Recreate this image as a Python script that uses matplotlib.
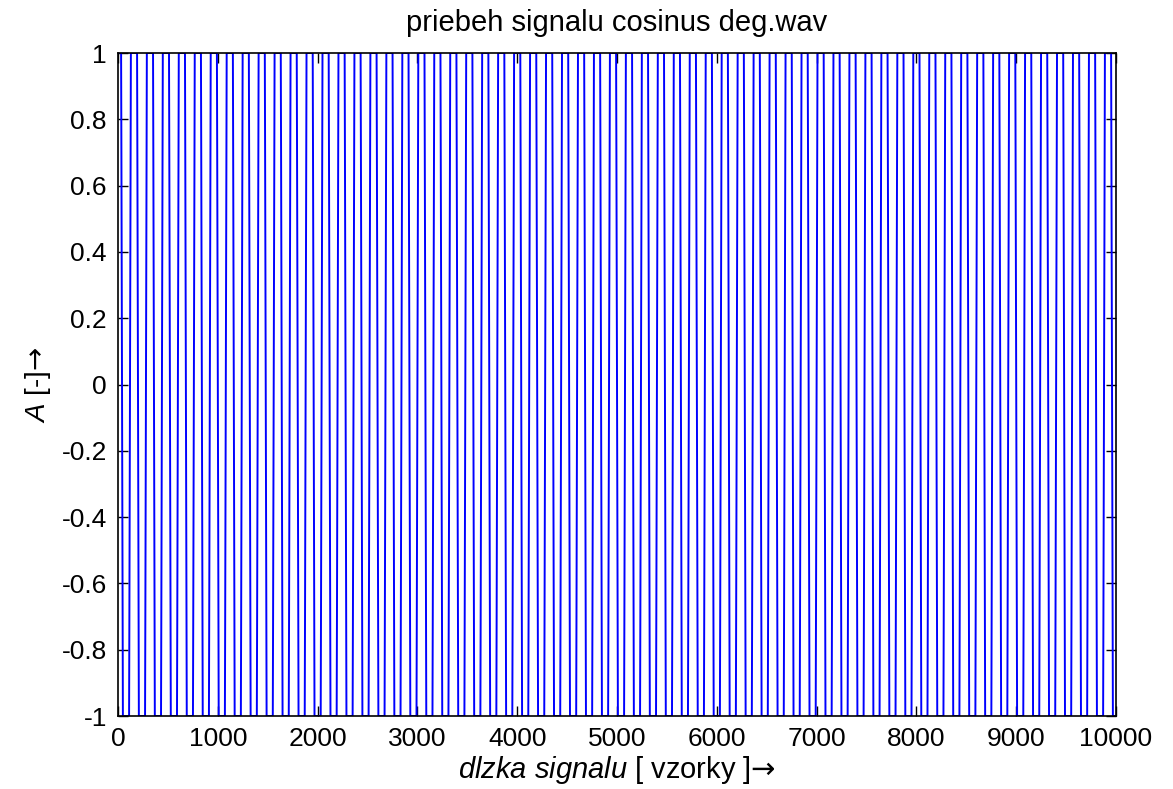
import numpy as np
import matplotlib
matplotlib.use("Agg")
import matplotlib.pyplot as plt
from matplotlib.ticker import FuncFormatter

# signal: a 50 Hz cosine at 8 kHz, 10000 samples,
# degraded by overdrive so it clips at +-1 (almost square)
sample_rate = 8000
tone_freq = 50
n_samples = 10000
overdrive = 3.0
samples = np.arange(n_samples)
signal = np.clip(overdrive * np.cos(2 * np.pi * tone_freq * samples / sample_rate), -1, 1)

x_ticks = list(range(0, 10001, 1000))
y_ticks = [-1, -0.8, -0.6, -0.4, -0.2, 0, 0.2, 0.4, 0.6, 0.8, 1]

plt.rcParams['font.family'] = ['Liberation Sans', 'DejaVu Sans']
plt.rcParams['mathtext.fontset'] = 'custom'
plt.rcParams['mathtext.rm'] = 'Liberation Sans'
plt.rcParams['mathtext.it'] = 'Liberation Sans:italic'
plt.rcParams['mathtext.sf'] = 'DejaVu Sans'

fig = plt.figure(figsize=(11.73, 7.89), dpi=100)
ax = fig.add_axes([0.1006, 0.0925, 0.8508, 0.8403])

ax.plot(samples, signal, color=(0, 0, 1), lw=1.4)

ax.set_xlim(0, 10000)
ax.set_ylim(-1, 1)
ax.set_xticks(x_ticks)
ax.set_yticks(y_ticks)
ax.yaxis.set_major_formatter(FuncFormatter(lambda v, p: '%g' % v))
ax.tick_params(direction='in', length=7, width=1, top=True, right=True,
               labelsize=19, pad=8)
for s in ax.spines.values():
    s.set_linewidth(1.2)

ax.set_title('priebeh signalu cosinus deg.wav', fontsize=21, pad=16)
ax.set_xlabel(r'$\mathit{dlzka\ signalu}$ [ vzorky ]$\mathsf{→}$', fontsize=21, labelpad=2)
ax.set_ylabel(r'$\mathit{A}$ [-]$\mathsf{→}$', fontsize=20, labelpad=6)

fig.savefig('out.png', dpi=100)
